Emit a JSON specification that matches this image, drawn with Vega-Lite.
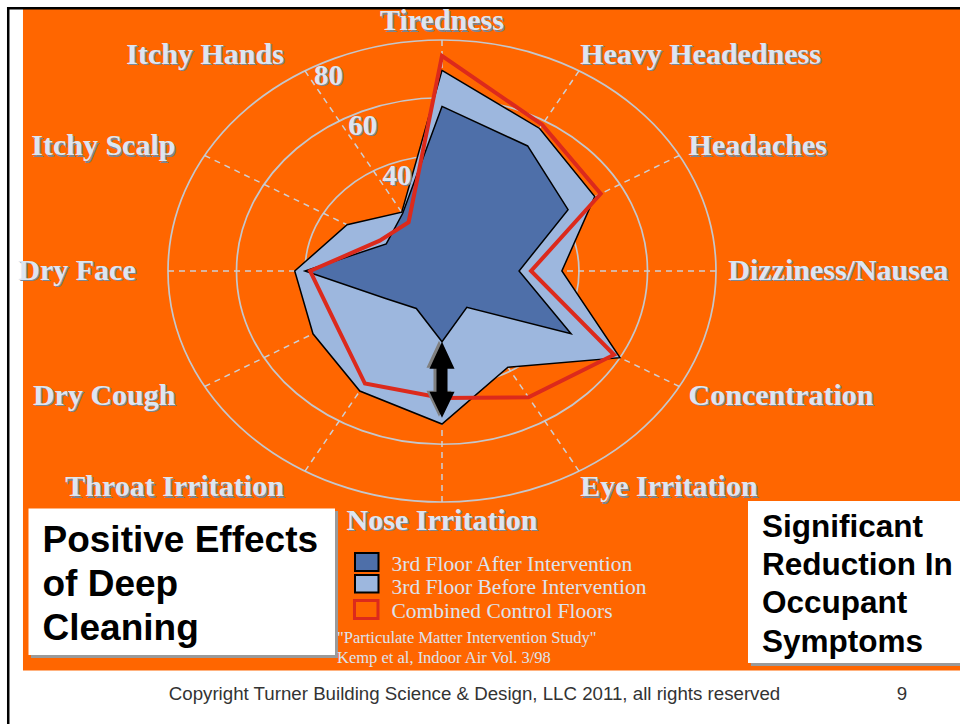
{
  "$schema": "https://vega.github.io/schema/vega-lite/v6.json",
  "width": 960,
  "height": 724,
  "autosize": "none",
  "padding": 0,
  "background": "white",
  "config": {"view": {"stroke": null}},
  "datasets": {
    "axes": [
      {"symptom": "Tiredness", "angle": 0},
      {"symptom": "Heavy Headedness", "angle": 30},
      {"symptom": "Headaches", "angle": 60},
      {"symptom": "Dizziness/Nausea", "angle": 90},
      {"symptom": "Concentration", "angle": 120},
      {"symptom": "Eye Irritation", "angle": 150},
      {"symptom": "Nose Irritation", "angle": 180},
      {"symptom": "Throat Irritation", "angle": 210},
      {"symptom": "Dry Cough", "angle": 240},
      {"symptom": "Dry Face", "angle": 270},
      {"symptom": "Itchy Scalp", "angle": 300},
      {"symptom": "Itchy Hands", "angle": 330}
    ],
    "rings": [{"ring": 20}, {"ring": 40}, {"ring": 60}, {"ring": 80}],
    "scores": [
      {"series": "3rd Floor After Intervention", "symptom": "Tiredness", "value": 57},
      {"series": "3rd Floor After Intervention", "symptom": "Heavy Headedness", "value": 50},
      {"series": "3rd Floor After Intervention", "symptom": "Headaches", "value": 42.5},
      {"series": "3rd Floor After Intervention", "symptom": "Dizziness/Nausea", "value": 22.5},
      {"series": "3rd Floor After Intervention", "symptom": "Concentration", "value": 43.5},
      {"series": "3rd Floor After Intervention", "symptom": "Eye Irritation", "value": 14.5},
      {"series": "3rd Floor After Intervention", "symptom": "Nose Irritation", "value": 24.5},
      {"series": "3rd Floor After Intervention", "symptom": "Throat Irritation", "value": 15},
      {"series": "3rd Floor After Intervention", "symptom": "Dry Cough", "value": 19},
      {"series": "3rd Floor After Intervention", "symptom": "Dry Face", "value": 40},
      {"series": "3rd Floor After Intervention", "symptom": "Itchy Scalp", "value": 18.8},
      {"series": "3rd Floor After Intervention", "symptom": "Itchy Hands", "value": 23},
      {"series": "3rd Floor Before Intervention", "symptom": "Tiredness", "value": 69.5},
      {"series": "3rd Floor Before Intervention", "symptom": "Heavy Headedness", "value": 57},
      {"series": "3rd Floor Before Intervention", "symptom": "Headaches", "value": 51.5},
      {"series": "3rd Floor Before Intervention", "symptom": "Dizziness/Nausea", "value": 35},
      {"series": "3rd Floor Before Intervention", "symptom": "Concentration", "value": 60},
      {"series": "3rd Floor Before Intervention", "symptom": "Eye Irritation", "value": 38.5},
      {"series": "3rd Floor Before Intervention", "symptom": "Nose Irritation", "value": 53},
      {"series": "3rd Floor Before Intervention", "symptom": "Throat Irritation", "value": 48},
      {"series": "3rd Floor Before Intervention", "symptom": "Dry Cough", "value": 43.5},
      {"series": "3rd Floor Before Intervention", "symptom": "Dry Face", "value": 43},
      {"series": "3rd Floor Before Intervention", "symptom": "Itchy Scalp", "value": 32},
      {"series": "3rd Floor Before Intervention", "symptom": "Itchy Hands", "value": 23.5},
      {"series": "Combined Control Floors", "symptom": "Tiredness", "value": 74.5},
      {"series": "Combined Control Floors", "symptom": "Heavy Headedness", "value": 58.5},
      {"series": "Combined Control Floors", "symptom": "Headaches", "value": 53.5},
      {"series": "Combined Control Floors", "symptom": "Dizziness/Nausea", "value": 26},
      {"series": "Combined Control Floors", "symptom": "Concentration", "value": 58},
      {"series": "Combined Control Floors", "symptom": "Eye Irritation", "value": 50.5},
      {"series": "Combined Control Floors", "symptom": "Nose Irritation", "value": 44},
      {"series": "Combined Control Floors", "symptom": "Throat Irritation", "value": 45},
      {"series": "Combined Control Floors", "symptom": "Dry Cough", "value": 36},
      {"series": "Combined Control Floors", "symptom": "Dry Face", "value": 38.5},
      {"series": "Combined Control Floors", "symptom": "Itchy Scalp", "value": 21},
      {"series": "Combined Control Floors", "symptom": "Itchy Hands", "value": 19.5}
    ]
  },
  "layer": [
    {
      "data": {"values": [{}]},
      "mark": {"type": "rect", "color": "#ff6600"},
      "encoding": {
        "x": {"datum": -122.34, "type": "quantitative", "scale": {"domain": [-129.05, 151.24], "nice": false, "zero": false}, "axis": null},
        "x2": {"datum": 151.24},
        "y": {"datum": 90.74, "type": "quantitative", "scale": {"domain": [-156.88, 93.85], "nice": false, "zero": false}, "axis": null},
        "y2": {"datum": -138.35}
      }
    },
    {
      "data": {"values": [{}]},
      "mark": {"type": "rect", "color": "black"},
      "encoding": {
        "x": {"datum": -127.01, "type": "quantitative", "scale": {"domain": [-129.05, 151.24], "nice": false, "zero": false}, "axis": null},
        "x2": {"datum": -126.28},
        "y": {"datum": 91.43, "type": "quantitative", "scale": {"domain": [-156.88, 93.85], "nice": false, "zero": false}, "axis": null},
        "y2": {"datum": -156.88}
      }
    },
    {
      "data": {"values": [{}]},
      "mark": {"type": "rect", "color": "black"},
      "encoding": {
        "x": {"datum": -127.01, "type": "quantitative", "scale": {"domain": [-129.05, 151.24], "nice": false, "zero": false}, "axis": null},
        "x2": {"datum": 151.24},
        "y": {"datum": 91.43, "type": "quantitative", "scale": {"domain": [-156.88, 93.85], "nice": false, "zero": false}, "axis": null},
        "y2": {"datum": 90.56}
      }
    },
    {
      "data": {"name": "rings"},
      "mark": {"type": "point", "shape": "M-1,0A1,0.8431,0,1,1,1,0A1,0.8431,0,1,1,-1,0Z", "filled": false, "stroke": "#c4c7cc", "strokeWidth": 1.7, "opacity": 1},
      "encoding": {
        "x": {"datum": 0, "type": "quantitative", "scale": {"domain": [-129.05, 151.24], "nice": false, "zero": false}, "axis": null},
        "y": {"datum": 0, "type": "quantitative", "scale": {"domain": [-156.88, 93.85], "nice": false, "zero": false}, "axis": null},
        "size": {"field": "ring", "type": "quantitative", "scale": {"type": "pow", "exponent": 2, "domain": [0, 80], "range": [0, 300304]}, "legend": null}
      }
    },
    {
      "data": {"name": "axes"},
      "transform": [
        {"calculate": "80*sin(datum.angle*PI/180)", "as": "ex"},
        {"calculate": "80*cos(datum.angle*PI/180)", "as": "ey"}
      ],
      "mark": {"type": "rule", "color": "#cdd0d5", "strokeWidth": 1.5, "strokeDash": [6, 5]},
      "encoding": {
        "x": {"field": "ex", "type": "quantitative", "scale": {"domain": [-129.05, 151.24], "nice": false, "zero": false}, "axis": null},
        "y": {"field": "ey", "type": "quantitative", "scale": {"domain": [-156.88, 93.85], "nice": false, "zero": false}, "axis": null},
        "x2": {"datum": 0},
        "y2": {"datum": 0}
      }
    },
    {
      "data": {"name": "scores"},
      "transform": [
        {"filter": "datum.series === '3rd Floor Before Intervention'"},
        {"lookup": "symptom", "from": {"data": {"name": "axes"}, "key": "symptom", "fields": ["angle"]}},
        {"calculate": "datum.value*sin(datum.angle*PI/180)", "as": "px"},
        {"calculate": "datum.value*cos(datum.angle*PI/180)", "as": "py"}
      ],
      "mark": {"type": "line", "interpolate": "linear-closed", "fill": "#9db7de", "stroke": "black", "strokeWidth": 1.5, "strokeJoin": "miter"},
      "encoding": {
        "x": {"field": "px", "type": "quantitative", "scale": {"domain": [-129.05, 151.24], "nice": false, "zero": false}, "axis": null},
        "y": {"field": "py", "type": "quantitative", "scale": {"domain": [-156.88, 93.85], "nice": false, "zero": false}, "axis": null},
        "order": {"field": "angle", "type": "quantitative"}
      }
    },
    {
      "data": {"name": "scores"},
      "transform": [
        {"filter": "datum.series === '3rd Floor After Intervention'"},
        {"lookup": "symptom", "from": {"data": {"name": "axes"}, "key": "symptom", "fields": ["angle"]}},
        {"calculate": "datum.value*sin(datum.angle*PI/180)", "as": "px"},
        {"calculate": "datum.value*cos(datum.angle*PI/180)", "as": "py"}
      ],
      "mark": {"type": "line", "interpolate": "linear-closed", "fill": "#4e6fa9", "stroke": "black", "strokeWidth": 1.5, "strokeJoin": "miter"},
      "encoding": {
        "x": {"field": "px", "type": "quantitative", "scale": {"domain": [-129.05, 151.24], "nice": false, "zero": false}, "axis": null},
        "y": {"field": "py", "type": "quantitative", "scale": {"domain": [-156.88, 93.85], "nice": false, "zero": false}, "axis": null},
        "order": {"field": "angle", "type": "quantitative"}
      }
    },
    {
      "data": {"name": "scores"},
      "transform": [
        {"filter": "datum.series === 'Combined Control Floors'"},
        {"lookup": "symptom", "from": {"data": {"name": "axes"}, "key": "symptom", "fields": ["angle"]}},
        {"calculate": "datum.value*sin(datum.angle*PI/180)", "as": "px"},
        {"calculate": "datum.value*cos(datum.angle*PI/180)", "as": "py"}
      ],
      "mark": {"type": "line", "interpolate": "linear-closed", "stroke": "#dc2a1c", "strokeWidth": 4, "strokeJoin": "miter"},
      "encoding": {
        "x": {"field": "px", "type": "quantitative", "scale": {"domain": [-129.05, 151.24], "nice": false, "zero": false}, "axis": null},
        "y": {"field": "py", "type": "quantitative", "scale": {"domain": [-156.88, 93.85], "nice": false, "zero": false}, "axis": null},
        "order": {"field": "angle", "type": "quantitative"}
      }
    },
    {
      "data": {"name": "scores"},
      "transform": [
        {"filter": "datum.series === '3rd Floor After Intervention' && datum.symptom === 'Nose Irritation'"},
        {"lookup": "symptom", "from": {"data": {"name": "axes"}, "key": "symptom", "fields": ["angle"]}},
        {"calculate": "datum.value*sin(datum.angle*PI/180)", "as": "px"},
        {"calculate": "datum.value*cos(datum.angle*PI/180)", "as": "py"}
      ],
      "mark": {"type": "point", "shape": "M0,0L0.33,0.71L0.145,0.71L0.145,1.316L0.33,1.316L0,2L-0.33,1.316L-0.145,1.316L-0.145,0.71L-0.33,0.71Z", "filled": true, "color": "#808080", "opacity": 1, "size": 5776, "xOffset": -3, "yOffset": -1},
      "encoding": {
        "x": {"field": "px", "type": "quantitative", "scale": {"domain": [-129.05, 151.24], "nice": false, "zero": false}, "axis": null},
        "y": {"field": "py", "type": "quantitative", "scale": {"domain": [-156.88, 93.85], "nice": false, "zero": false}, "axis": null}
      }
    },
    {
      "data": {"name": "scores"},
      "transform": [
        {"filter": "datum.series === '3rd Floor After Intervention' && datum.symptom === 'Nose Irritation'"},
        {"lookup": "symptom", "from": {"data": {"name": "axes"}, "key": "symptom", "fields": ["angle"]}},
        {"calculate": "datum.value*sin(datum.angle*PI/180)", "as": "px"},
        {"calculate": "datum.value*cos(datum.angle*PI/180)", "as": "py"}
      ],
      "mark": {"type": "point", "shape": "M0,0L0.33,0.71L0.145,0.71L0.145,1.316L0.33,1.316L0,2L-0.33,1.316L-0.145,1.316L-0.145,0.71L-0.33,0.71Z", "filled": true, "color": "black", "opacity": 1, "size": 5776},
      "encoding": {
        "x": {"field": "px", "type": "quantitative", "scale": {"domain": [-129.05, 151.24], "nice": false, "zero": false}, "axis": null},
        "y": {"field": "py", "type": "quantitative", "scale": {"domain": [-156.88, 93.85], "nice": false, "zero": false}, "axis": null}
      }
    },
    {
      "data": {"name": "axes"},
      "transform": [
        {"calculate": "86.5*sin(datum.angle*PI/180)", "as": "lx"},
        {"calculate": "86.5*cos(datum.angle*PI/180)", "as": "ly"},
        {"calculate": "datum.angle > 5 && datum.angle < 175 ? 'left' : (datum.angle > 185 && datum.angle < 355 ? 'right' : 'center')", "as": "side"}
      ],
      "mark": {"type": "text", "font": "Liberation Serif", "fontWeight": "bold", "fontSize": 30, "baseline": "middle", "color": "#7d8590", "dy": 1.5, "dx": {"expr": "datum.side === 'center' ? 1.5 : -8.5"}, "align": {"expr": "datum.side"}},
      "encoding": {
        "x": {"field": "lx", "type": "quantitative", "scale": {"domain": [-129.05, 151.24], "nice": false, "zero": false}, "axis": null},
        "y": {"field": "ly", "type": "quantitative", "scale": {"domain": [-156.88, 93.85], "nice": false, "zero": false}, "axis": null},
        "text": {"field": "symptom", "type": "nominal"}
      }
    },
    {
      "data": {"name": "axes"},
      "transform": [
        {"calculate": "86.5*sin(datum.angle*PI/180)", "as": "lx"},
        {"calculate": "86.5*cos(datum.angle*PI/180)", "as": "ly"},
        {"calculate": "datum.angle > 5 && datum.angle < 175 ? 'left' : (datum.angle > 185 && datum.angle < 355 ? 'right' : 'center')", "as": "side"}
      ],
      "mark": {"type": "text", "font": "Liberation Serif", "fontWeight": "bold", "fontSize": 30, "baseline": "middle", "color": "#dde6f1", "dx": {"expr": "datum.side === 'center' ? 0 : -10"}, "align": {"expr": "datum.side"}},
      "encoding": {
        "x": {"field": "lx", "type": "quantitative", "scale": {"domain": [-129.05, 151.24], "nice": false, "zero": false}, "axis": null},
        "y": {"field": "ly", "type": "quantitative", "scale": {"domain": [-156.88, 93.85], "nice": false, "zero": false}, "axis": null},
        "text": {"field": "symptom", "type": "nominal"}
      }
    },
    {
      "data": {"name": "rings"},
      "transform": [
        {"filter": "datum.ring >= 40"},
        {"calculate": "datum.ring*sin(330*PI/180)", "as": "rx"},
        {"calculate": "datum.ring*cos(330*PI/180)", "as": "ry"}
      ],
      "mark": {"type": "text", "font": "Liberation Serif", "fontWeight": "bold", "fontSize": 29, "baseline": "middle", "align": "left", "color": "#7d8590", "dx": 10.5, "dy": 6.5},
      "encoding": {
        "x": {"field": "rx", "type": "quantitative", "scale": {"domain": [-129.05, 151.24], "nice": false, "zero": false}, "axis": null},
        "y": {"field": "ry", "type": "quantitative", "scale": {"domain": [-156.88, 93.85], "nice": false, "zero": false}, "axis": null},
        "text": {"field": "ring", "type": "nominal"}
      }
    },
    {
      "data": {"name": "rings"},
      "transform": [
        {"filter": "datum.ring >= 40"},
        {"calculate": "datum.ring*sin(330*PI/180)", "as": "rx"},
        {"calculate": "datum.ring*cos(330*PI/180)", "as": "ry"}
      ],
      "mark": {"type": "text", "font": "Liberation Serif", "fontWeight": "bold", "fontSize": 29, "baseline": "middle", "align": "left", "color": "#dde6f1", "dx": 9, "dy": 5},
      "encoding": {
        "x": {"field": "rx", "type": "quantitative", "scale": {"domain": [-129.05, 151.24], "nice": false, "zero": false}, "axis": null},
        "y": {"field": "ry", "type": "quantitative", "scale": {"domain": [-156.88, 93.85], "nice": false, "zero": false}, "axis": null},
        "text": {"field": "ring", "type": "nominal"}
      }
    },
    {
      "data": {"values": [{}]},
      "mark": {"type": "rect", "color": "#9a9a9a"},
      "encoding": {
        "x": {"datum": -120.0, "type": "quantitative", "scale": {"domain": [-129.05, 151.24], "nice": false, "zero": false}, "axis": null},
        "x2": {"datum": -30.36},
        "y": {"datum": -83.12, "type": "quantitative", "scale": {"domain": [-156.88, 93.85], "nice": false, "zero": false}, "axis": null},
        "y2": {"datum": -134.03}
      }
    },
    {
      "data": {"values": [{}]},
      "mark": {"type": "rect", "color": "white"},
      "encoding": {
        "x": {"datum": -120.73, "type": "quantitative", "scale": {"domain": [-129.05, 151.24], "nice": false, "zero": false}, "axis": null},
        "x2": {"datum": -31.24},
        "y": {"datum": -82.25, "type": "quantitative", "scale": {"domain": [-156.88, 93.85], "nice": false, "zero": false}, "axis": null},
        "y2": {"datum": -132.99}
      }
    },
    {
      "data": {"values": [{}]},
      "mark": {"type": "rect", "color": "#9a9a9a"},
      "encoding": {
        "x": {"datum": 90.22, "type": "quantitative", "scale": {"domain": [-129.05, 151.24], "nice": false, "zero": false}, "axis": null},
        "x2": {"datum": 151.24},
        "y": {"datum": -80.69, "type": "quantitative", "scale": {"domain": [-156.88, 93.85], "nice": false, "zero": false}, "axis": null},
        "y2": {"datum": -136.8}
      }
    },
    {
      "data": {"values": [{}]},
      "mark": {"type": "rect", "color": "white"},
      "encoding": {
        "x": {"datum": 89.34, "type": "quantitative", "scale": {"domain": [-129.05, 151.24], "nice": false, "zero": false}, "axis": null},
        "x2": {"datum": 151.24},
        "y": {"datum": -79.65, "type": "quantitative", "scale": {"domain": [-156.88, 93.85], "nice": false, "zero": false}, "axis": null},
        "y2": {"datum": -135.76}
      }
    },
    {
      "data": {"values": [{}]},
      "mark": {"type": "text", "font": "Liberation Sans", "fontWeight": "bold", "fontSize": 37, "align": "left", "baseline": "alphabetic", "lineHeight": 44, "color": "black", "text": ["Positive Effects", "of Deep", "Cleaning"]},
      "encoding": {
        "x": {"datum": -116.64, "type": "quantitative", "scale": {"domain": [-129.05, 151.24], "nice": false, "zero": false}, "axis": null},
        "y": {"datum": -97.21, "type": "quantitative", "scale": {"domain": [-156.88, 93.85], "nice": false, "zero": false}, "axis": null}
      }
    },
    {
      "data": {"values": [{}]},
      "mark": {"type": "text", "font": "Liberation Sans", "fontWeight": "bold", "fontSize": 31.5, "align": "left", "baseline": "alphabetic", "lineHeight": 38.3, "color": "black", "text": ["Significant", "Reduction In", "Occupant", "Symptoms"]},
      "encoding": {
        "x": {"datum": 93.43, "type": "quantitative", "scale": {"domain": [-129.05, 151.24], "nice": false, "zero": false}, "axis": null},
        "y": {"datum": -92.02, "type": "quantitative", "scale": {"domain": [-156.88, 93.85], "nice": false, "zero": false}, "axis": null}
      }
    },
    {
      "data": {"values": [{}]},
      "mark": {"type": "rect", "fill": "#4e6fa9", "stroke": "black", "strokeWidth": 2},
      "encoding": {
        "x": {"datum": -25.4, "type": "quantitative", "scale": {"domain": [-129.05, 151.24], "nice": false, "zero": false}, "axis": null},
        "x2": {"datum": -18.54},
        "y": {"datum": -97.66, "type": "quantitative", "scale": {"domain": [-156.88, 93.85], "nice": false, "zero": false}, "axis": null},
        "y2": {"datum": -103.9}
      }
    },
    {
      "data": {"values": [{}]},
      "mark": {"type": "rect", "fill": "#9db7de", "stroke": "black", "strokeWidth": 2},
      "encoding": {
        "x": {"datum": -25.4, "type": "quantitative", "scale": {"domain": [-129.05, 151.24], "nice": false, "zero": false}, "axis": null},
        "x2": {"datum": -18.54},
        "y": {"datum": -105.28, "type": "quantitative", "scale": {"domain": [-156.88, 93.85], "nice": false, "zero": false}, "axis": null},
        "y2": {"datum": -111.34}
      }
    },
    {
      "data": {"values": [{}]},
      "mark": {"type": "rect", "filled": false, "stroke": "#dc2a1c", "strokeWidth": 3},
      "encoding": {
        "x": {"datum": -25.55, "type": "quantitative", "scale": {"domain": [-129.05, 151.24], "nice": false, "zero": false}, "axis": null},
        "x2": {"datum": -18.69},
        "y": {"datum": -114.11, "type": "quantitative", "scale": {"domain": [-156.88, 93.85], "nice": false, "zero": false}, "axis": null},
        "y2": {"datum": -120.35}
      }
    },
    {
      "data": {"values": [{}]},
      "mark": {"type": "text", "font": "Liberation Serif", "fontSize": 21.5, "align": "left", "baseline": "alphabetic", "lineHeight": 23.7, "color": "#dbe3ee", "text": ["3rd Floor After Intervention", "3rd Floor Before Intervention", "Combined Control Floors"]},
      "encoding": {
        "x": {"datum": -14.74, "type": "quantitative", "scale": {"domain": [-129.05, 151.24], "nice": false, "zero": false}, "axis": null},
        "y": {"datum": -103.79, "type": "quantitative", "scale": {"domain": [-156.88, 93.85], "nice": false, "zero": false}, "axis": null}
      }
    },
    {
      "data": {"values": [{}]},
      "mark": {"type": "text", "font": "Liberation Serif", "fontSize": 16.5, "align": "left", "baseline": "alphabetic", "lineHeight": 19.5, "color": "#dbe3ee", "text": ["\"Particulate Matter Intervention Study\"", "Kemp et al, Indoor Air  Vol. 3/98"]},
      "encoding": {
        "x": {"datum": -30.66, "type": "quantitative", "scale": {"domain": [-129.05, 151.24], "nice": false, "zero": false}, "axis": null},
        "y": {"datum": -128.83, "type": "quantitative", "scale": {"domain": [-156.88, 93.85], "nice": false, "zero": false}, "axis": null}
      }
    },
    {
      "data": {"values": [{}]},
      "mark": {"type": "text", "font": "Liberation Sans", "fontSize": 18.7, "align": "center", "baseline": "middle", "color": "#333333", "text": "Copyright Turner Building Science & Design, LLC 2011, all rights reserved"},
      "encoding": {
        "x": {"datum": 9.49, "type": "quantitative", "scale": {"domain": [-129.05, 151.24], "nice": false, "zero": false}, "axis": null},
        "y": {"datum": -146.49, "type": "quantitative", "scale": {"domain": [-156.88, 93.85], "nice": false, "zero": false}, "axis": null}
      }
    },
    {
      "data": {"values": [{}]},
      "mark": {"type": "text", "font": "Liberation Sans", "fontSize": 18.7, "align": "center", "baseline": "middle", "color": "#333333", "text": "9"},
      "encoding": {
        "x": {"datum": 134.31, "type": "quantitative", "scale": {"domain": [-129.05, 151.24], "nice": false, "zero": false}, "axis": null},
        "y": {"datum": -146.49, "type": "quantitative", "scale": {"domain": [-156.88, 93.85], "nice": false, "zero": false}, "axis": null}
      }
    }
  ]
}
